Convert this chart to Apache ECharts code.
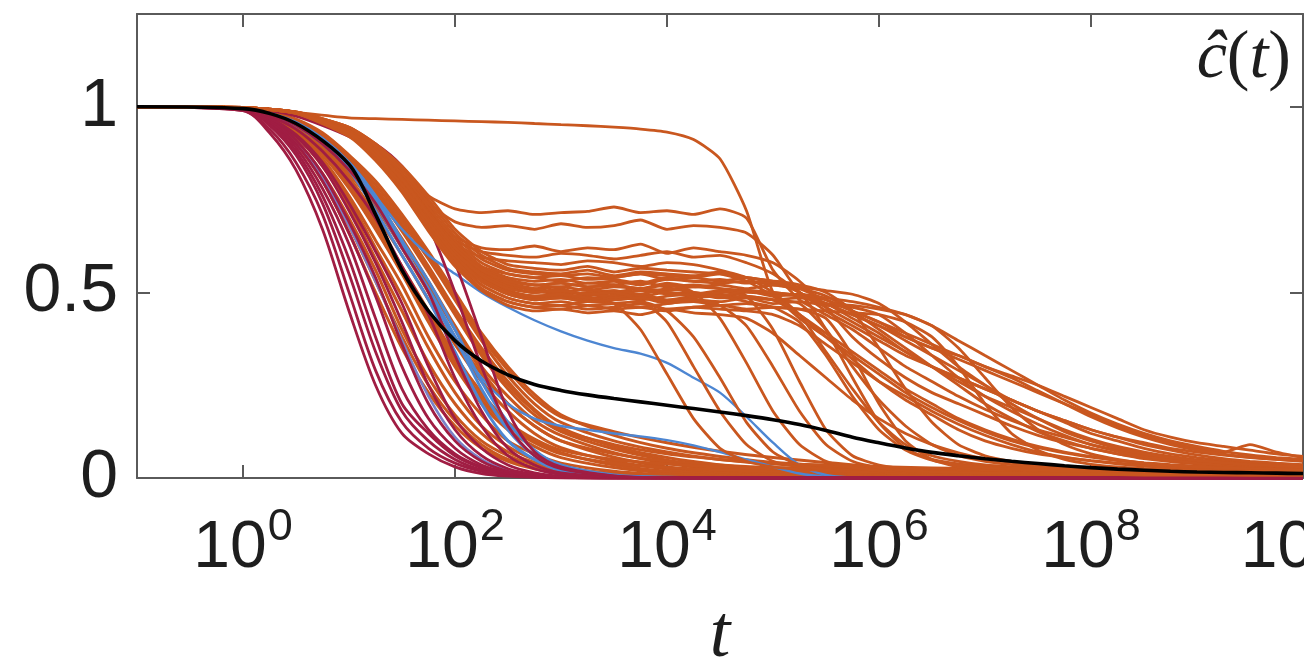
<!DOCTYPE html>
<html>
<head>
<meta charset="utf-8">
<script src="https://cdn.jsdelivr.net/npm/echarts@6/dist/echarts.min.js"></script>
<style>
html,body{margin:0;padding:0;background:#fff;}
#chart{width:1304px;height:664px;}
</style>
</head>
<body>
<div id="chart"></div>
<script>
// ---------- tick labels ----------
const xTickValues = [1, 1e2, 1e4, 1e6, 1e8, 1e10];
const yTickValues = [0, 0.5, 1];

// ---------- sampling times ----------
// early-decaying runs
const tA = [0.1, 1, 1.78, 3.16, 5.62, 10, 17.8, 31.6, 56.2, 100, 178, 316, 562, 1000, 3160, 1e4, 3.16e4, 1e5, 1e6, 1e7, 1e8, 1e9, 1e10];
// long-lived runs and mean
const tB = [0.1, 1, 3.16, 10, 17.8, 31.6, 56.2, 100, 178, 316,
  562, 1e3, 1.78e3, 3.16e3, 5.62e3, 1e4, 1.78e4, 3.16e4, 5.62e4, 1e5,
  1.78e5, 3.16e5, 5.62e5, 1e6, 1.78e6, 3.16e6, 5.62e6, 1e7, 1.78e7, 3.16e7,
  5.62e7, 1e8, 1.78e8, 3.16e8, 5.62e8, 1e9, 1.78e9, 3.16e9, 5.62e9, 1e10];

// ---------- crimson runs (tA) ----------
const crimsonRuns = [
  [1,0.99,0.93,0.83,0.67,0.45,0.25,0.12,0.065,0.03,0.012,0.005,0.002,0,0,0,0,0,0,0,0,0,0],
  [1,0.99,0.94,0.85,0.71,0.5,0.29,0.15,0.08,0.04,0.018,0.007,0.003,0.001,0,0,0,0,0,0,0,0,0],
  [1,0.995,0.95,0.87,0.74,0.55,0.34,0.18,0.1,0.05,0.022,0.009,0.004,0.001,0,0,0,0,0,0,0,0,0],
  [1,0.995,0.955,0.88,0.76,0.59,0.38,0.2,0.12,0.06,0.028,0.012,0.005,0.002,0,0,0,0,0,0,0,0,0],
  [1,0.995,0.96,0.89,0.78,0.63,0.43,0.24,0.13,0.065,0.03,0.013,0.006,0.002,0,0,0,0,0,0,0,0,0],
  [1,0.995,0.96,0.9,0.8,0.66,0.49,0.3,0.16,0.08,0.035,0.015,0.006,0.002,0,0,0,0,0,0,0,0,0],
  [1,0.995,0.965,0.91,0.82,0.69,0.54,0.36,0.2,0.1,0.045,0.018,0.008,0.003,0,0,0,0,0,0,0,0,0],
  [1,0.996,0.97,0.92,0.84,0.72,0.58,0.42,0.25,0.13,0.06,0.025,0.01,0.004,0.001,0,0,0,0,0,0,0,0],
  [1,0.996,0.97,0.925,0.85,0.74,0.61,0.47,0.3,0.16,0.08,0.035,0.014,0.005,0.001,0,0,0,0,0,0,0,0],
  [1,0.997,0.975,0.94,0.88,0.8,0.7,0.57,0.44,0.27,0.14,0.06,0.025,0.01,0.002,0,0,0,0,0,0,0,0],
  [1,0.997,0.98,0.95,0.9,0.83,0.74,0.62,0.5,0.33,0.18,0.08,0.035,0.014,0.003,0,0,0,0,0,0,0,0],
  [1,0.998,0.99,0.975,0.95,0.92,0.88,0.8,0.68,0.5,0.3,0.14,0.06,0.025,0.005,0,0,0,0,0,0,0,0],
  [1,0.998,0.99,0.98,0.96,0.935,0.9,0.84,0.74,0.58,0.38,0.18,0.07,0.03,0.006,0.001,0,0,0,0,0,0,0]
];

// ---------- blue runs ----------
const blueRunsA = [ // tA
  [1,0.997,0.98,0.955,0.91,0.84,0.74,0.62,0.51,0.38,0.24,0.13,0.06,0.025,0.005,0.001,0,0,0,0,0,0,0],
  [1,0.997,0.982,0.958,0.915,0.85,0.76,0.64,0.53,0.4,0.26,0.15,0.075,0.035,0.008,0.002,0,0,0,0,0,0,0],
  [1,0.997,0.978,0.95,0.9,0.83,0.72,0.6,0.48,0.34,0.2,0.1,0.05,0.02,0.004,0,0,0,0,0,0,0,0]
];
const lavenderRun = [1,0.995,0.96,0.9,0.81,0.68,0.53,0.37,0.22,0.11,0.05,0.02,0.008,0.003,0,0,0,0,0,0,0,0,0]; // tA
const blueRunsB = [ // tB
  [1,0.997,0.955,0.85,0.76,0.67,0.6,0.55,0.5,0.46, 0.425,0.395,0.37,0.35,0.335,0.31,0.27,0.23,0.165,0.095, 0.035,0.008,0.001,0,0,0,0,0,0,0, 0,0,0,0,0,0,0,0,0,0],
  [1,0.997,0.955,0.85,0.75,0.63,0.5,0.37,0.27,0.2, 0.16,0.14,0.13,0.12,0.112,0.102,0.088,0.07,0.05,0.03, 0.012,0.003,0,0,0,0,0,0,0,0, 0,0,0,0,0,0,0,0,0,0]
];

// ---------- orange runs, fast group (tA) ----------
const orangeFastRuns = [
  [1,0.995,0.96,0.9,0.8,0.66,0.5,0.35,0.23,0.14,0.08,0.045,0.025,0.013,0.004,0.001,0,0,0,0,0,0,0],
  [1,0.995,0.962,0.905,0.81,0.68,0.53,0.38,0.25,0.155,0.09,0.05,0.028,0.015,0.005,0.002,0,0,0,0,0,0,0],
  [1,0.995,0.965,0.91,0.82,0.7,0.56,0.4,0.27,0.17,0.1,0.06,0.035,0.02,0.008,0.003,0.001,0,0,0,0,0,0],
  [1,0.996,0.97,0.92,0.84,0.73,0.59,0.45,0.31,0.2,0.12,0.07,0.042,0.025,0.01,0.004,0.0015,0,0,0,0,0,0],
  [1,0.996,0.97,0.925,0.85,0.75,0.62,0.49,0.35,0.23,0.14,0.085,0.05,0.03,0.013,0.006,0.002,0.001,0,0,0,0,0],
  [1,0.996,0.972,0.93,0.86,0.76,0.64,0.52,0.38,0.26,0.17,0.1,0.065,0.04,0.018,0.008,0.003,0.001,0,0,0,0,0],
  [1,0.997,0.975,0.935,0.87,0.78,0.67,0.55,0.42,0.3,0.2,0.13,0.085,0.055,0.028,0.013,0.006,0.002,0,0,0,0,0],
  [1,0.997,0.977,0.94,0.88,0.79,0.69,0.57,0.45,0.33,0.23,0.15,0.1,0.068,0.035,0.018,0.009,0.004,0.001,0,0,0,0],
  [1,0.997,0.978,0.945,0.89,0.81,0.71,0.6,0.48,0.36,0.26,0.18,0.12,0.082,0.045,0.024,0.012,0.006,0.002,0,0,0,0],
  [1,0.997,0.98,0.95,0.9,0.82,0.73,0.62,0.5,0.38,0.28,0.2,0.14,0.1,0.056,0.03,0.016,0.008,0.003,0.001,0,0,0],
  [1,0.998,0.982,0.955,0.905,0.835,0.75,0.645,0.53,0.41,0.3,0.22,0.155,0.115,0.068,0.04,0.022,0.012,0.004,0.002,0.001,0,0],
  [1,0.998,0.984,0.96,0.915,0.85,0.765,0.665,0.555,0.44,0.33,0.24,0.17,0.125,0.078,0.048,0.028,0.016,0.006,0.003,0.001,0.001,0],
  [1,0.998,0.985,0.96,0.92,0.855,0.775,0.68,0.57,0.455,0.35,0.26,0.185,0.135,0.085,0.055,0.035,0.022,0.01,0.006,0.004,0.003,0.003],
  [1,0.998,0.986,0.965,0.925,0.865,0.79,0.7,0.6,0.49,0.38,0.29,0.215,0.165,0.125,0.095,0.072,0.055,0.03,0.018,0.012,0.008,0.006],
  [1,0.997,0.978,0.945,0.89,0.8,0.69,0.56,0.43,0.31,0.21,0.14,0.095,0.065,0.04,0.028,0.022,0.018,0.014,0.012,0.01,0.009,0.008],
  [1,0.998,0.983,0.958,0.91,0.84,0.75,0.64,0.52,0.4,0.29,0.2,0.14,0.1,0.065,0.045,0.035,0.028,0.022,0.018,0.015,0.013,0.012],
  [1,0.998,0.985,0.962,0.92,0.86,0.78,0.69,0.59,0.48,0.37,0.275,0.2,0.15,0.1,0.07,0.05,0.038,0.026,0.02,0.016,0.014,0.013],
  [1,0.997,0.976,0.94,0.88,0.79,0.68,0.56,0.44,0.32,0.22,0.15,0.105,0.075,0.05,0.038,0.03,0.025,0.02,0.017,0.015,0.014,0.013],
  [1,0.998,0.984,0.96,0.915,0.85,0.77,0.675,0.565,0.45,0.34,0.25,0.18,0.13,0.09,0.065,0.05,0.04,0.03,0.025,0.021,0.018,0.016],
  [1,0.998,0.987,0.967,0.93,0.87,0.8,0.71,0.61,0.5,0.39,0.3,0.225,0.17,0.115,0.08,0.058,0.042,0.028,0.02,0.016,0.014,0.012]
];

// ---------- orange runs, plateau group (tB) ----------
const orangePlateauRuns = [
  // high run
  [1,0.998,0.985,0.97,0.968,0.966,0.964,0.962,0.96,0.958, 0.955,0.952,0.949,0.945,0.94,0.932,0.912,0.86,0.72,0.5, 0.43,0.38,0.33,0.28,0.23,0.19,0.155,0.125,0.1,0.082, 0.068,0.056,0.047,0.04,0.034,0.03,0.026,0.023,0.021,0.019],
  // upper plateaus
  [1,0.998,0.985,0.94,0.89,0.83,0.76,0.725,0.715,0.72, 0.71,0.715,0.718,0.73,0.715,0.72,0.71,0.725,0.7,0.56, 0.48,0.44,0.4,0.35,0.3,0.26,0.22,0.185,0.155,0.13, 0.11,0.09,0.075,0.062,0.052,0.045,0.04,0.036,0.033,0.03],
  [1,0.998,0.985,0.94,0.885,0.82,0.74,0.69,0.675,0.68, 0.67,0.685,0.675,0.68,0.695,0.67,0.68,0.675,0.66,0.6, 0.5,0.47,0.44,0.41,0.37,0.33,0.29,0.25,0.21,0.18, 0.15,0.12,0.1,0.08,0.065,0.055,0.047,0.04,0.035,0.03],
  [1,0.998,0.985,0.935,0.88,0.81,0.72,0.65,0.62,0.615, 0.625,0.61,0.62,0.615,0.63,0.605,0.62,0.61,0.6,0.58, 0.53,0.46,0.38,0.32,0.27,0.23,0.2,0.17,0.14,0.115, 0.095,0.08,0.065,0.055,0.046,0.04,0.035,0.03,0.027,0.025],
  [1,0.998,0.984,0.935,0.875,0.8,0.71,0.64,0.61,0.6, 0.595,0.605,0.6,0.59,0.6,0.61,0.595,0.6,0.58,0.55, 0.5,0.45,0.41,0.37,0.33,0.3,0.27,0.24,0.21,0.18, 0.155,0.13,0.11,0.09,0.075,0.062,0.052,0.045,0.04,0.036],
  [1,0.998,0.984,0.93,0.87,0.79,0.7,0.63,0.595,0.585, 0.58,0.575,0.585,0.58,0.57,0.58,0.575,0.56,0.54,0.5, 0.44,0.34,0.24,0.15,0.09,0.06,0.045,0.035,0.03,0.027, 0.025,0.023,0.021,0.02,0.02,0.019,0.018,0.018,0.017,0.017],
  // main plateau near 0.5
  [1,0.998,0.986,0.945,0.9,0.835,0.75,0.66,0.6,0.565, 0.555,0.55,0.56,0.545,0.555,0.55,0.545,0.555,0.54,0.53, 0.5,0.46,0.42,0.38,0.34,0.3,0.27,0.24,0.21,0.18, 0.155,0.13,0.11,0.095,0.08,0.07,0.062,0.055,0.05,0.046],
  [1,0.998,0.985,0.94,0.89,0.82,0.72,0.63,0.57,0.55, 0.54,0.545,0.535,0.54,0.55,0.535,0.54,0.53,0.54,0.525, 0.5,0.4,0.27,0.15,0.08,0.05,0.038,0.032,0.028,0.025, 0.023,0.021,0.02,0.019,0.018,0.017,0.016,0.016,0.015,0.015],
  [1,0.998,0.985,0.935,0.88,0.81,0.72,0.635,0.57,0.54, 0.53,0.535,0.525,0.53,0.52,0.535,0.53,0.525,0.53,0.52, 0.51,0.49,0.45,0.4,0.35,0.3,0.25,0.2,0.16,0.125, 0.1,0.08,0.065,0.052,0.044,0.038,0.033,0.03,0.027,0.025],
  [1,0.998,0.984,0.935,0.88,0.805,0.71,0.62,0.56,0.53, 0.52,0.525,0.515,0.52,0.53,0.515,0.52,0.51,0.49,0.4, 0.26,0.13,0.06,0.035,0.025,0.02,0.018,0.016,0.015,0.014, 0.013,0.012,0.012,0.011,0.011,0.01,0.01,0.01,0.01,0.01],
  [1,0.998,0.985,0.94,0.885,0.815,0.72,0.625,0.56,0.525, 0.51,0.515,0.505,0.515,0.51,0.505,0.515,0.51,0.505,0.5, 0.49,0.47,0.44,0.41,0.38,0.35,0.32,0.29,0.26,0.23, 0.2,0.17,0.14,0.115,0.095,0.08,0.07,0.09,0.07,0.055],
  [1,0.998,0.984,0.935,0.88,0.8,0.7,0.61,0.55,0.515, 0.5,0.505,0.495,0.5,0.51,0.495,0.5,0.49,0.5,0.495, 0.49,0.48,0.45,0.42,0.38,0.35,0.33,0.3,0.275,0.25, 0.22,0.19,0.16,0.13,0.11,0.095,0.085,0.075,0.065,0.058],
  [1,0.998,0.985,0.94,0.885,0.81,0.71,0.62,0.555,0.52, 0.505,0.495,0.5,0.505,0.49,0.5,0.495,0.505,0.49,0.48, 0.44,0.38,0.32,0.26,0.21,0.17,0.13,0.1,0.08,0.065, 0.055,0.047,0.04,0.035,0.031,0.028,0.025,0.023,0.021,0.02],
  [1,0.998,0.984,0.93,0.87,0.79,0.69,0.6,0.54,0.505, 0.49,0.495,0.485,0.49,0.495,0.48,0.49,0.495,0.485,0.48, 0.47,0.4,0.3,0.21,0.14,0.09,0.06,0.045,0.036,0.03, 0.026,0.023,0.021,0.02,0.019,0.018,0.017,0.016,0.015,0.015],
  [1,0.998,0.984,0.93,0.87,0.79,0.69,0.595,0.53,0.495, 0.48,0.485,0.475,0.48,0.485,0.47,0.48,0.475,0.485,0.47, 0.475,0.465,0.46,0.44,0.39,0.33,0.27,0.22,0.18,0.145, 0.115,0.09,0.072,0.058,0.048,0.04,0.034,0.03,0.027,0.025],
  [1,0.998,0.983,0.925,0.865,0.78,0.68,0.59,0.52,0.485, 0.47,0.465,0.475,0.47,0.46,0.47,0.475,0.465,0.47,0.46, 0.455,0.43,0.33,0.2,0.1,0.05,0.03,0.022,0.018,0.015, 0.013,0.012,0.011,0.01,0.01,0.009,0.009,0.008,0.008,0.008],
  [1,0.998,0.983,0.925,0.86,0.775,0.67,0.58,0.51,0.475, 0.46,0.455,0.465,0.455,0.46,0.45,0.46,0.455,0.45,0.44, 0.41,0.36,0.31,0.26,0.22,0.18,0.145,0.115,0.09,0.07, 0.056,0.046,0.038,0.032,0.028,0.025,0.022,0.02,0.019,0.018],
  [1,0.998,0.982,0.92,0.855,0.77,0.665,0.57,0.505,0.465, 0.45,0.455,0.445,0.45,0.44,0.455,0.445,0.44,0.43,0.39, 0.33,0.27,0.21,0.16,0.12,0.09,0.068,0.052,0.042,0.035, 0.03,0.026,0.023,0.021,0.02,0.019,0.018,0.017,0.016,0.016],
  [1,0.998,0.986,0.945,0.9,0.84,0.76,0.67,0.61,0.575, 0.565,0.56,0.57,0.555,0.565,0.56,0.555,0.55,0.53,0.49, 0.44,0.39,0.34,0.29,0.24,0.2,0.16,0.13,0.105,0.085, 0.07,0.058,0.048,0.041,0.036,0.032,0.029,0.026,0.024,0.022],
  [1,0.998,0.985,0.94,0.885,0.81,0.715,0.625,0.56,0.525, 0.51,0.5,0.51,0.495,0.505,0.5,0.49,0.5,0.505,0.49, 0.495,0.485,0.475,0.46,0.44,0.41,0.37,0.33,0.29,0.25, 0.21,0.175,0.145,0.12,0.1,0.085,0.072,0.062,0.055,0.05],
  [1,0.998,0.985,0.94,0.89,0.82,0.73,0.64,0.58,0.55, 0.54,0.53,0.54,0.535,0.525,0.54,0.53,0.535,0.525,0.53, 0.52,0.5,0.45,0.35,0.24,0.15,0.09,0.06,0.045,0.036, 0.03,0.026,0.023,0.021,0.019,0.018,0.017,0.016,0.015,0.015],
  [1,0.998,0.984,0.93,0.87,0.79,0.69,0.6,0.535,0.5, 0.49,0.485,0.495,0.49,0.48,0.49,0.495,0.485,0.49,0.48, 0.485,0.47,0.465,0.455,0.44,0.41,0.35,0.27,0.19,0.13, 0.09,0.065,0.05,0.04,0.034,0.03,0.027,0.025,0.023,0.022],
  [1,0.998,0.985,0.938,0.88,0.805,0.705,0.615,0.55,0.515, 0.5,0.51,0.49,0.505,0.495,0.51,0.5,0.49,0.505,0.5, 0.49,0.47,0.43,0.39,0.34,0.3,0.26,0.22,0.19,0.16, 0.13,0.105,0.085,0.07,0.058,0.049,0.042,0.037,0.033,0.03],
  [1,0.998,0.985,0.94,0.885,0.81,0.715,0.63,0.565,0.535, 0.52,0.515,0.525,0.52,0.51,0.525,0.515,0.52,0.51,0.52, 0.515,0.505,0.495,0.47,0.42,0.36,0.3,0.25,0.2,0.16, 0.125,0.1,0.08,0.065,0.055,0.047,0.041,0.036,0.033,0.03],
  [1,0.998,0.984,0.93,0.87,0.79,0.69,0.6,0.535,0.5, 0.485,0.49,0.48,0.485,0.49,0.475,0.485,0.49,0.475,0.46, 0.42,0.33,0.22,0.13,0.075,0.048,0.035,0.028,0.024,0.021, 0.019,0.018,0.017,0.016,0.015,0.015,0.014,0.014,0.013,0.013],
  [1,0.998,0.986,0.945,0.895,0.83,0.74,0.65,0.59,0.56, 0.55,0.545,0.55,0.54,0.55,0.545,0.54,0.55,0.54,0.53, 0.51,0.48,0.45,0.42,0.39,0.36,0.33,0.3,0.27,0.235, 0.2,0.165,0.135,0.11,0.09,0.075,0.064,0.056,0.05,0.045],
  [1,0.998,0.983,0.925,0.86,0.775,0.67,0.58,0.51,0.475, 0.46,0.465,0.455,0.46,0.47,0.455,0.46,0.465,0.455,0.46, 0.455,0.45,0.445,0.44,0.42,0.38,0.3,0.2,0.12,0.075, 0.05,0.037,0.03,0.026,0.023,0.021,0.02,0.019,0.018,0.017],
  // early drops from the plateau
  [1,0.998,0.984,0.93,0.87,0.79,0.69,0.6,0.535,0.5, 0.49,0.495,0.485,0.47,0.4,0.28,0.16,0.08,0.045,0.03, 0.024,0.02,0.018,0.016,0.015,0.014,0.013,0.012,0.012,0.011, 0.011,0.01,0.01,0.01,0.01,0.01,0.009,0.009,0.009,0.009],
  [1,0.998,0.985,0.935,0.875,0.8,0.7,0.61,0.545,0.51, 0.5,0.505,0.495,0.5,0.48,0.42,0.3,0.18,0.09,0.045, 0.03,0.024,0.02,0.018,0.016,0.015,0.014,0.013,0.013,0.012, 0.012,0.011,0.011,0.011,0.01,0.01,0.01,0.01,0.01,0.01],
  [1,0.998,0.983,0.925,0.865,0.78,0.68,0.59,0.52,0.485, 0.47,0.475,0.465,0.47,0.475,0.45,0.38,0.27,0.15,0.07, 0.035,0.022,0.017,0.015,0.013,0.012,0.011,0.01,0.01,0.01, 0.009,0.009,0.009,0.008,0.008,0.008,0.008,0.008,0.008,0.008],
  [1,0.998,0.984,0.935,0.88,0.805,0.71,0.62,0.56,0.53, 0.52,0.525,0.515,0.52,0.51,0.52,0.5,0.43,0.31,0.18, 0.09,0.045,0.028,0.02,0.017,0.015,0.014,0.013,0.012,0.012, 0.011,0.011,0.01,0.01,0.01,0.01,0.01,0.01,0.01,0.01],
  [1,0.998,0.984,0.93,0.87,0.79,0.69,0.6,0.53,0.495, 0.48,0.485,0.475,0.48,0.485,0.475,0.48,0.465,0.41,0.3, 0.18,0.09,0.045,0.028,0.02,0.017,0.015,0.014,0.013,0.012, 0.012,0.011,0.011,0.01,0.01,0.01,0.01,0.01,0.01,0.01]
];

// ---------- mean curve (tB) ----------
const meanCurve = [1,0.995,0.955,0.845,0.71,0.56,0.45,0.37,0.315,0.278, 0.252,0.236,0.224,0.214,0.205,0.196,0.187,0.178,0.168,0.157, 0.144,0.128,0.11,0.095,0.081,0.069,0.06,0.052,0.045,0.039, 0.033,0.028,0.024,0.021,0.018,0.016,0.015,0.014,0.013,0.012];

// ---------- styling ----------
const COL_CRIMSON = '#a01d43';
const COL_BLUE = '#4d86d2';
const COL_LAVENDER = '#7a82c8';
const COL_ORANGE = '#c9571f';
const AXIS_COL = '#5a5a5a';
const TXT = '#1e1e1e';

function run(times, values, color, width, z, smooth) {
  return {
    type: 'line',
    data: times.map((t, i) => [t, values[i]]),
    showSymbol: false,
    symbol: 'none',
    smooth: smooth,
    silent: true,
    animation: false,
    z: z,
    lineStyle: { color: color, width: width }
  };
}

const series = [];
orangeFastRuns.forEach(v => series.push(run(tA, v, COL_ORANGE, 3, 2, 0.3)));
series.push(run(tA, lavenderRun, COL_LAVENDER, 2.6, 3, 0.3));
blueRunsA.forEach(v => series.push(run(tA, v, COL_BLUE, 3, 3, 0.3)));
blueRunsB.forEach(v => series.push(run(tB, v, COL_BLUE, 2.4, 3, 0.3)));
crimsonRuns.forEach(v => series.push(run(tA, v, COL_CRIMSON, 2.8, 4, 0.3)));
orangePlateauRuns.forEach(v => series.push(run(tB, v, COL_ORANGE, 2.8, 5, 0.2)));
series.push(run(tB, meanCurve, '#000000', 3.6, 6, 0.3));

function xLabel(v) {
  const e = Math.round(Math.log10(v));
  return '{b|10}{s|' + e + '}';
}
const xRich = {
  b: { fontFamily: 'Liberation Sans, Arial, sans-serif', fontSize: 66, color: TXT, lineHeight: 66, verticalAlign: 'bottom' },
  s: { fontFamily: 'Liberation Sans, Arial, sans-serif', fontSize: 45, color: TXT, lineHeight: 45, verticalAlign: 'bottom', padding: [0, 0, 32, 1] }
};

const xBase = {
  type: 'log', logBase: 10, min: 0.1, max: 1e10,
  splitLine: { show: false }, minorTick: { show: false }, minorSplitLine: { show: false },
  axisLine: { show: true, onZero: false, lineStyle: { color: AXIS_COL, width: 2 } },
  axisTick: { show: true, inside: true, length: 13, customValues: xTickValues, lineStyle: { color: AXIS_COL, width: 2 } }
};
const yBase = {
  type: 'value', min: 0, max: 1.25, interval: 0.5,
  splitLine: { show: false },
  axisLine: { show: true, onZero: false, lineStyle: { color: AXIS_COL, width: 2 } },
  axisTick: { show: true, inside: true, length: 13, customValues: yTickValues, lineStyle: { color: AXIS_COL, width: 2 } }
};

const option = {
  backgroundColor: '#ffffff',
  animation: false,
  title: {
    text: '{i|ĉ}{p|(}{i|t}{p|)}',
    right: 8, top: 20,
    textStyle: {
      rich: {
        i: { fontFamily: 'Liberation Serif, serif', fontStyle: 'italic', fontWeight: 'normal', fontSize: 68, color: TXT },
        p: { fontFamily: 'Liberation Serif, serif', fontWeight: 'normal', fontSize: 68, color: TXT }
      }
    }
  },
  grid: { left: 137, right: 1, top: 14, bottom: 186, containLabel: false, outerBoundsMode: 'none' },
  xAxis: [
    Object.assign({}, xBase, {
      position: 'bottom',
      axisLabel: { show: true, customValues: xTickValues, margin: 38, formatter: xLabel, rich: xRich },
      name: 't', nameLocation: 'middle', nameGap: 122,
      nameTextStyle: { fontFamily: 'Liberation Serif, serif', fontStyle: 'italic', fontSize: 74, color: TXT }
    }),
    Object.assign({}, xBase, { position: 'top', axisLabel: { show: false } })
  ],
  yAxis: [
    Object.assign({}, yBase, {
      position: 'left',
      axisLabel: { show: true, customValues: yTickValues, margin: 19, fontFamily: 'Liberation Sans, Arial, sans-serif', fontSize: 68, color: TXT,
        formatter: v => String(v) }
    }),
    Object.assign({}, yBase, { position: 'right', axisLabel: { show: false } })
  ],
  series: series
};

const chart = echarts.init(document.getElementById('chart'), null, { renderer: 'canvas' });
chart.setOption(option);
</script>
</body>
</html>
